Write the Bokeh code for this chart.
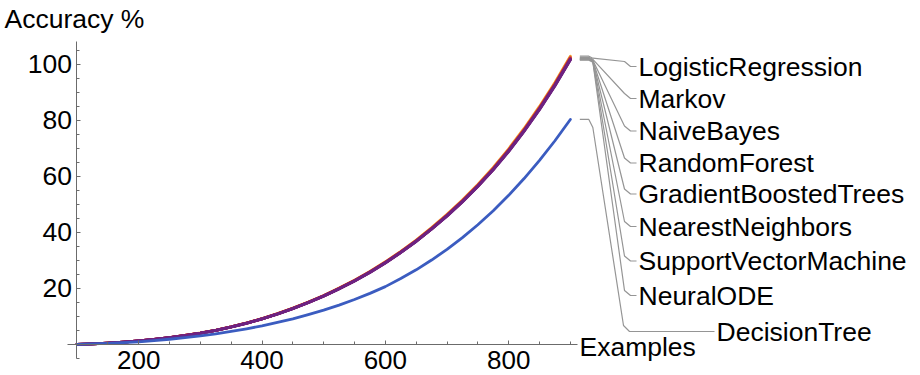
from bokeh.plotting import figure
from bokeh.models import FixedTicker, Range1d
from bokeh.core.properties import value
from bokeh.embed import file_html
from bokeh.resources import INLINE

# ---------------- data ----------------
examples = [100, 125, 150, 175, 200, 225, 250, 275, 300, 325, 350, 375, 400, 425, 450, 475, 500,
            525, 550, 575, 600, 625, 650, 675, 700, 725, 750, 775, 800, 825, 850, 875, 900]

methods = ["LogisticRegression", "Markov", "NaiveBayes", "RandomForest",
           "GradientBoostedTrees", "NearestNeighbors", "SupportVectorMachine",
           "NeuralODE", "DecisionTree"]

logistic_regression = [0, 0.15, 0.4, 0.76, 1.21, 1.77, 2.42, 3.18, 4.04, 5.05, 6.26, 7.62, 9.19, 10.95, 12.92, 15.09, 17.46,
                       20.08, 22.91, 26.04, 29.47, 33.2, 37.24, 41.68, 46.42, 51.57, 57.12, 63.17, 69.83, 77.1, 84.96, 93.54, 102.9]
markov = [0, 0.15, 0.4, 0.75, 1.2, 1.76, 2.41, 3.16, 4.02, 5.02, 6.22, 7.58, 9.14, 10.9, 12.86, 15.01, 17.37,
          19.98, 22.8, 25.9, 29.32, 33.03, 37.05, 41.46, 46.18, 51.3, 56.82, 62.85, 69.48, 76.71, 84.54, 93.07, 102.5]
naive_bayes = [0, 0.15, 0.4, 0.75, 1.2, 1.75, 2.4, 3.16, 4.01, 5.01, 6.21, 7.57, 9.12, 10.87, 12.83, 14.98, 17.33,
               19.94, 22.75, 25.85, 29.26, 32.97, 36.97, 41.38, 46.09, 51.2, 56.71, 62.73, 69.34, 76.55, 84.37, 92.89, 102.2]
random_forest = [0, 0.15, 0.4, 0.75, 1.2, 1.75, 2.4, 3.15, 4.0, 5.0, 6.2, 7.55, 9.1, 10.85, 12.8, 14.95, 17.3,
                 19.9, 22.7, 25.8, 29.2, 32.9, 36.9, 41.3, 46.0, 51.1, 56.6, 62.6, 69.2, 76.4, 84.2, 92.7, 102.0]
gradient_boosted_trees = [0, 0.15, 0.4, 0.75, 1.2, 1.75, 2.4, 3.15, 4.0, 5.0, 6.19, 7.54, 9.09, 10.84, 12.79, 14.94, 17.28,
                          19.88, 22.68, 25.77, 29.17, 32.87, 36.86, 41.26, 45.95, 51.05, 56.54, 62.54, 69.13, 76.32, 84.12, 92.61, 101.9]
nearest_neighbors = [0, 0.15, 0.4, 0.75, 1.2, 1.75, 2.4, 3.14, 3.99, 4.99, 6.19, 7.53, 9.08, 10.83, 12.77, 14.92, 17.27,
                     19.86, 22.65, 25.75, 29.14, 32.83, 36.83, 41.22, 45.91, 51.0, 56.49, 62.47, 69.06, 76.25, 84.03, 92.51, 101.8]
support_vector_machine = [0, 0.15, 0.4, 0.75, 1.2, 1.74, 2.39, 3.14, 3.99, 4.99, 6.18, 7.53, 9.07, 10.82, 12.76, 14.91, 17.25,
                          19.84, 22.63, 25.72, 29.11, 32.8, 36.79, 41.18, 45.86, 50.95, 56.43, 62.41, 68.99, 76.17, 83.95, 92.42, 101.7]
neural_ode = [0, 0.15, 0.4, 0.75, 1.19, 1.74, 2.39, 3.13, 3.98, 4.98, 6.17, 7.51, 9.05, 10.8, 12.74, 14.88, 17.21,
              19.8, 22.59, 25.67, 29.05, 32.74, 36.72, 41.09, 45.77, 50.84, 56.32, 62.29, 68.85, 76.02, 83.78, 92.24, 101.5]
decision_tree = [0, 0.12, 0.3, 0.57, 0.9, 1.32, 1.8, 2.37, 3.0, 3.76, 4.6, 5.55, 6.6, 7.8, 9.1, 10.6, 12.2,
                 14.0, 16.0, 18.2, 20.6, 23.5, 26.6, 30.1, 33.9, 38.1, 42.7, 47.7, 53.2, 59.2, 65.7, 72.7, 80.3]

series = [logistic_regression, markov, naive_bayes, random_forest, gradient_boosted_trees,
          nearest_neighbors, support_vector_machine, neural_ode, decision_tree]

colors = ["#F2A12A", "#E0552E", "#C8323A", "#B0264C", "#98225C",
          "#862068", "#762274", "#6C2282", "#3B5CC0"]

x_major = [200, 400, 600, 800]
x_minor = [100, 150, 250, 300, 350, 450, 500, 550, 650, 700, 750, 850, 900]
y_major = [20, 40, 60, 80, 100]
y_minor = [-5, 0, 5, 10, 15, 25, 30, 35, 45, 50, 55, 65, 70, 75, 85, 90, 95, 105]

# ---------------- layout ----------------
W, H = 920, 375
X0, X1 = -24.05, 1467.8
Y0, Y1 = -11.14, 122.79
kx = W / (X1 - X0)
ky = H / (Y1 - Y0)


def px2x(px):
    return X0 + px / kx


def py2y(py):
    return Y1 - py / ky


FONT = "Liberation Sans"
FS = "26.5px"

p = figure(width=W, height=H, x_range=Range1d(X0, X1), y_range=Range1d(Y0, Y1),
           output_backend="svg", toolbar_location=None, min_border=0)
p.outline_line_color = None
p.grid.visible = False
p.background_fill_color = "white"
p.border_fill_color = "white"

ax_col = "#6b6b6b"
for ax in (p.xaxis[0], p.yaxis[0]):
    ax.axis_line_color = ax_col
    ax.axis_line_width = 1
    ax.major_tick_line_color = ax_col
    ax.minor_tick_line_color = ax_col
    ax.major_tick_in = 4
    ax.major_tick_out = 0
    ax.minor_tick_in = 3
    ax.minor_tick_out = 0
    ax.major_label_text_font = FONT
    ax.major_label_text_color = "black"

p.xaxis.major_label_text_font_size = "26px"
p.yaxis.major_label_text_font_size = FS
p.xaxis.fixed_location = 0
p.yaxis.fixed_location = 100
p.xaxis.bounds = (84.6, 912)
p.yaxis.bounds = (-5.2, 108)
p.xaxis.ticker = FixedTicker(ticks=x_major, minor_ticks=x_minor)
p.yaxis.ticker = FixedTicker(ticks=y_major, minor_ticks=y_minor)
p.xaxis.major_label_standoff = 7
p.yaxis.major_label_standoff = 5

# curves
for ys, c in zip(series, colors):
    p.line(examples, ys, line_color=c, line_width=2.8, line_join="round", line_cap="round")

# labels and leader lines
label_py = [66, 98, 130.5, 162.5, 193.5, 226, 260.5, 295, 331]
label_px = [638] * 8 + [716]
lead_col = "#959595"
xs, ys_l = [], []
for i, s in enumerate(series):
    yend = s[-1]
    yl = py2y(label_py[i])
    x_s = examples[-1] + 9.5 / kx
    x_b = examples[-1] + 18.5 / kx
    if i < 8:
        xs.append([x_s, x_b, x_b + 4 / kx, px2x(624), px2x(630), px2x(636)])
        ys_l.append([yend, yend, yend - 2 / ky, yl + 5 / ky, yl, yl])
    else:
        xs.append([x_s, x_b, x_b + 4 / kx, px2x(623), px2x(629), px2x(714)])
        ys_l.append([yend, yend, yend - 8 / ky, yl + 6 / ky, yl, yl])
p.multi_line(xs, ys_l, line_color=lead_col, line_width=1.2)

p.text(x=[px2x(v) for v in label_px], y=[py2y(v) for v in label_py], text=methods,
       text_font=value(FONT), text_font_size=value(FS), text_color="black",
       text_align="left", text_baseline="middle")

# axis titles
p.text(x=[px2x(4)], y=[py2y(18)], text=["Accuracy %"], text_font=value(FONT),
       text_font_size=value(FS), text_color="black", text_align="left", text_baseline="middle")
p.text(x=[px2x(579)], y=[py2y(346)], text=["Examples"], text_font=value(FONT),
       text_font_size=value(FS), text_color="black", text_align="left", text_baseline="middle")

open("out.html", "w").write(file_html(p, INLINE))
